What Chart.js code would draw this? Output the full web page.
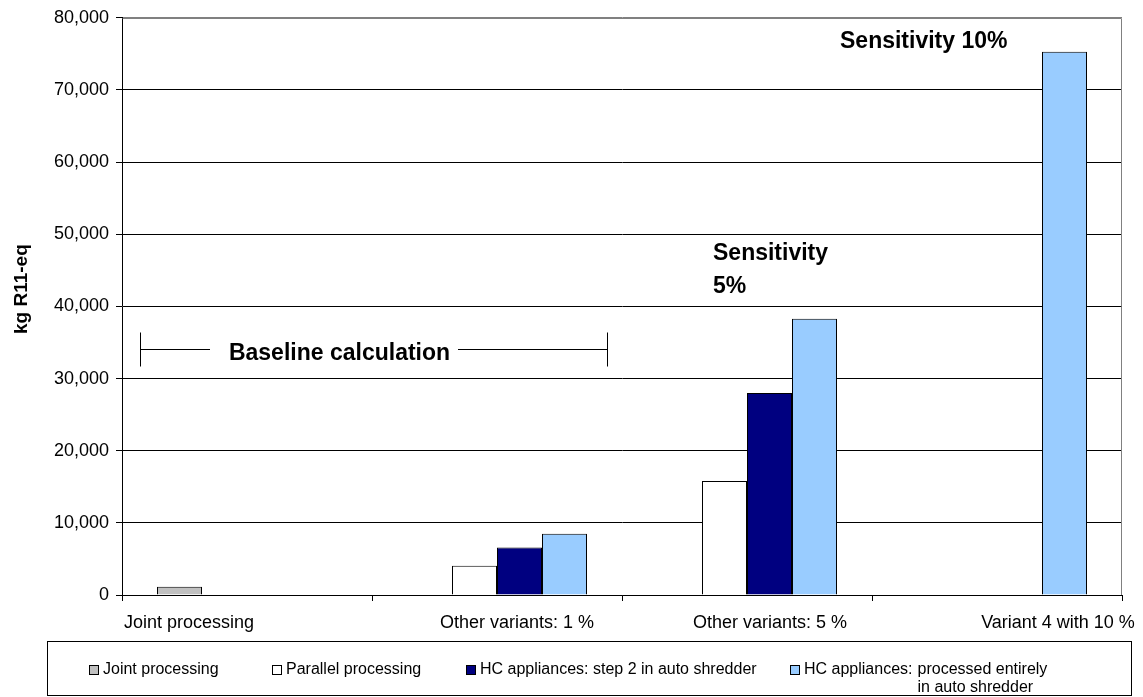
<!DOCTYPE html>
<html><head><meta charset="utf-8">
<script src="https://cdn.jsdelivr.net/npm/chart.js@4/dist/chart.umd.min.js"></script>
<style>
html,body{margin:0;padding:0;background:#fff;}
#wrap{position:relative;width:1143px;height:697px;overflow:hidden;}
#c{position:absolute;left:0;top:0;}
#legend{position:absolute;left:47px;top:641px;width:1085px;height:55px;border:1px solid #000;box-sizing:border-box;font:16px "Liberation Sans",Arial,sans-serif;color:#000;}
.item{position:absolute;top:18px;line-height:18px;white-space:nowrap;}
.sw{display:inline-block;width:10px;height:10px;box-sizing:border-box;border:1px solid #000;margin-right:4px;vertical-align:-1px;}
.blk{display:inline-block;vertical-align:top;margin-left:5px;}
</style>
</head><body>
<div id="wrap">
<canvas id="c" width="1143" height="697"></canvas>
<div id="legend"></div>
</div>
<script>
// ---- data ----
const categories = ['Joint processing', 'Other variants: 1 %', 'Other variants: 5 %', 'Variant 4 with 10 %'];
const seriesNames = ['Joint processing', 'Parallel processing', 'HC appliances: step 2 in auto shredder', 'HC appliances: processed entirely in auto shredder'];
const jointProcessing    = [1150, null, null, null];
const parallelProcessing = [null, 4050, 15800, null];
const hcStep2Shredder    = [null, 6600, 28000, null];
const hcEntireShredder   = [null, 8500, 38300, 75300];
const yAxisMin = 0, yAxisMax = 80000, yAxisStep = 10000;
const yAxisTitle = 'kg R11-eq';
const seriesColors = ['#C0C0C0', '#FFFFFF', '#000080', '#99CCFF'];

// ---- annotation & label placement (category-index / value coordinates) ----
const xLabelShift = [-0.232, 0.08, 0.092, 0.244];
const notes = {
  bracket: {x0: -0.428, x1: 1.44, gapL: -0.148, gapR: 0.844, y: 34100, textX: 0.37, text: 'Baseline calculation'},
  texts: [
    {lines: ['Sensitivity', '5%'], x: 1.864, y: 47300, lineGap: 33},
    {lines: ['Sensitivity 10%'], x: 2.372, y: 76700, lineGap: 0}
  ]
};

const FONT = '"Liberation Sans", Arial, sans-serif';
Chart.defaults.font.family = FONT;
Chart.defaults.color = '#000';

const overlay = {
  id: 'overlay',
  afterDraw(chart) {
    const {ctx, chartArea: a, scales: {x, y}} = chart;
    ctx.save();
    // gray plot border top & right
    ctx.strokeStyle = '#808080';
    ctx.lineWidth = 1;
    ctx.beginPath();
    ctx.moveTo(Math.round(a.left) + 0.5, Math.round(a.top) + 0.5);
    ctx.lineTo(Math.round(a.right) - 0.5, Math.round(a.top) + 0.5);
    ctx.lineTo(Math.round(a.right) - 0.5, Math.round(a.bottom));
    ctx.stroke();
    // y axis title
    ctx.fillStyle = '#000';
    ctx.save();
    ctx.translate(22, y.getPixelForValue(yAxisMax * 0.53));
    ctx.rotate(-Math.PI / 2);
    ctx.font = 'bold 19px ' + FONT;
    ctx.textAlign = 'center';
    ctx.textBaseline = 'middle';
    ctx.fillText(yAxisTitle, 0, 0);
    ctx.restore();
    // x category labels
    ctx.font = '18px ' + FONT;
    ctx.textAlign = 'center';
    ctx.textBaseline = 'middle';
    categories.forEach((c, i) => {
      ctx.fillText(c, x.getPixelForValue(i + xLabelShift[i]), a.bottom + 28);
    });
    // bracket
    const b = notes.bracket;
    const by = Math.round(y.getPixelForValue(b.y)) + 0.5;
    const xa = Math.round(x.getPixelForValue(b.x0)) + 0.5, xb = Math.round(x.getPixelForValue(b.x1)) + 0.5;
    ctx.strokeStyle = '#000';
    ctx.beginPath();
    ctx.moveTo(xa, by - 17); ctx.lineTo(xa, by + 17);
    ctx.moveTo(xb, by - 17); ctx.lineTo(xb, by + 17);
    ctx.moveTo(xa, by); ctx.lineTo(x.getPixelForValue(b.gapL), by);
    ctx.moveTo(x.getPixelForValue(b.gapR), by); ctx.lineTo(xb, by);
    ctx.stroke();
    ctx.font = 'bold 23px ' + FONT;
    ctx.fillText(b.text, x.getPixelForValue(b.textX), by + 4);
    // texts
    ctx.textAlign = 'left';
    notes.texts.forEach(t => {
      const px = x.getPixelForValue(t.x), py = y.getPixelForValue(t.y);
      t.lines.forEach((ln, k) => ctx.fillText(ln, px, py + k * t.lineGap));
    });
    ctx.restore();
  }
};

const dsData = [jointProcessing, parallelProcessing, hcStep2Shredder, hcEntireShredder];
new Chart(document.getElementById('c'), {
  type: 'bar',
  data: {
    labels: categories,
    datasets: dsData.map((d, i) => ({
      label: seriesNames[i], data: d,
      backgroundColor: seriesColors[i], borderColor: '#000', borderWidth: 1,
      categoryPercentage: 0.72, barPercentage: 1
    }))
  },
  options: {
    responsive: false, animation: false, devicePixelRatio: 1,
    layout: {padding: {left: 0, right: 21, top: 16, bottom: 0}},
    plugins: {legend: {display: false}, tooltip: {enabled: false}},
    scales: {
      x: {
        offset: true,
        grid: {offset: true, drawOnChartArea: false, drawTicks: true, tickLength: 6, color: '#000'},
        border: {color: '#000'},
        ticks: {display: false},
        afterFit(s) { s.height = 102; }
      },
      y: {
        min: yAxisMin, max: yAxisMax,
        ticks: {stepSize: yAxisStep, padding: 7, color: '#000', font: {size: 18},
                callback: v => Number(v).toLocaleString('en-US')},
        grid: {color: c => (c.tick && c.tick.value === yAxisMax) ? '#808080' : '#000', tickColor: '#000', tickLength: 6},
        border: {color: '#000'},
        title: {display: false},
        afterFit(s) { s.width = 122; }
      }
    }
  },
  plugins: [overlay]
});

// HTML legend (last entry wraps onto two lines as in the original)
const legendPos = [41, 224, 418, 742];
const lg = document.getElementById('legend');
seriesNames.forEach((n, i) => {
  const it = document.createElement('div');
  it.className = 'item';
  it.style.left = legendPos[i] + 'px';
  const sw = '<span class="sw" style="background:' + seriesColors[i] + '"></span>';
  if (i === 3) {
    it.innerHTML = sw + '<span>HC appliances:</span><span class="blk">processed entirely<br>in auto shredder</span>';
  } else {
    it.innerHTML = sw + '<span>' + n + '</span>';
  }
  lg.appendChild(it);
});
</script>
</body></html>
